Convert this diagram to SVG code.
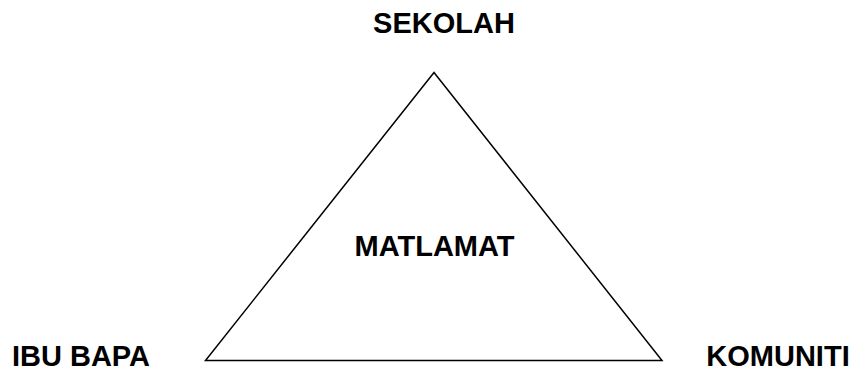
<svg xmlns="http://www.w3.org/2000/svg" width="853" height="372" viewBox="0 0 853 372">
<style>
.lbl{font-family:"Liberation Sans",Arial,sans-serif;font-weight:bold;font-size:29px;fill:#000;text-anchor:middle}
.tri{fill:none;stroke:#000;stroke-width:1.5}
</style>
<rect width="853" height="372" fill="#fff"/>
<g id="connectors">
<polygon class="tri" points="434,72.5 205.5,360.5 662,360.5"/>
</g>
<g id="sekolah"><text class="lbl" x="444" y="33">SEKOLAH</text></g>
<g id="matlamat"><text class="lbl" x="434.5" y="256">MATLAMAT</text></g>
<g id="ibubapa"><text class="lbl" x="81" y="365.5">IBU BAPA</text></g>
<g id="komuniti"><text class="lbl" x="778" y="365.5">KOMUNITI</text></g>
</svg>
